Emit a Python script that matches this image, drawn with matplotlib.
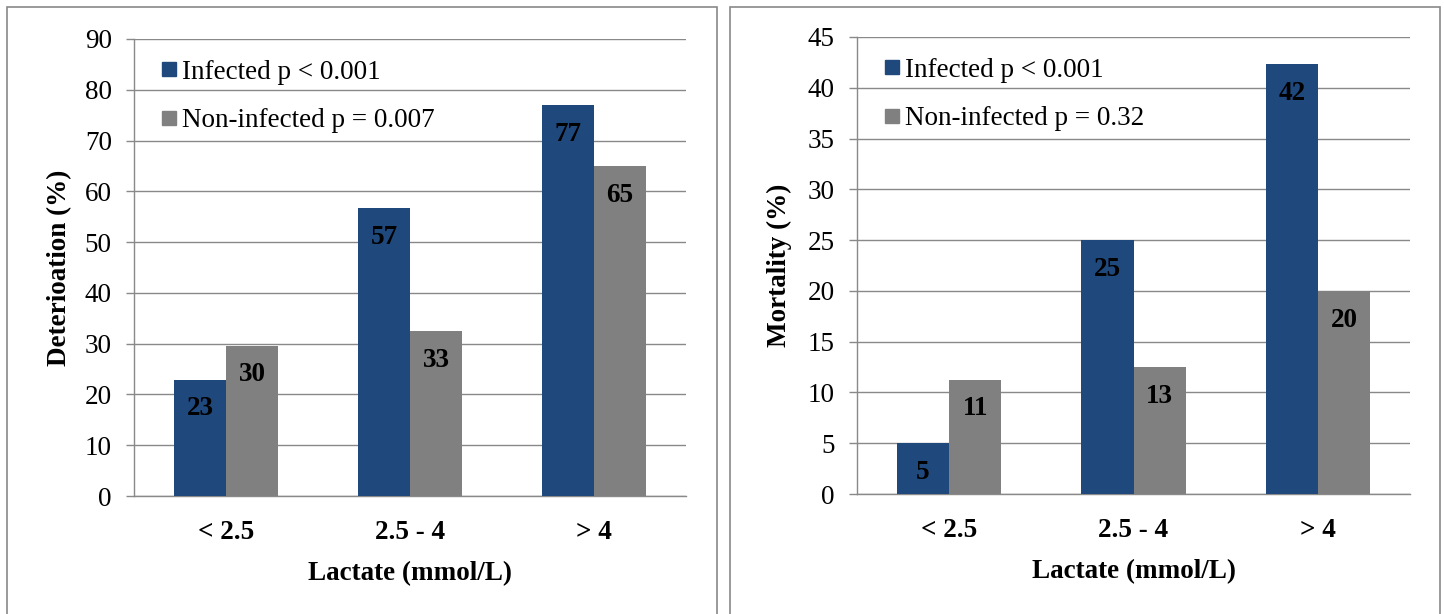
import matplotlib
matplotlib.use("Agg")
import matplotlib.pyplot as plt
from matplotlib.patches import Rectangle
from matplotlib.lines import Line2D
import numpy as np

plt.rcParams['font.family'] = ['Liberation Serif', 'DejaVu Serif']

categories = ["< 2.5", "2.5 - 4", "> 4"]

# left panel: deterioration (%)
det_infected = [22.9, 56.7, 77.0]
det_noninf = [29.6, 32.5, 65.0]
det_inf_labels = ["23", "57", "77"]
det_non_labels = ["30", "33", "65"]

# right panel: mortality (%)
mort_infected = [5.0, 25.0, 42.3]
mort_noninf = [11.25, 12.5, 20.0]
mort_inf_labels = ["5", "25", "42"]
mort_non_labels = ["11", "13", "20"]

blue = "#1F497D"
grey = "#808080"
line_grey = "#898989"
fs = 19.5

W, H = 1444, 614
fig = plt.figure(figsize=(W / 100, H / 100), dpi=100)

# panel frames
for x0, x1 in [(7, 717), (730, 1440)]:
    fig.patches.append(Rectangle((x0 / W, -0.1), (x1 - x0) / W, 0.1 + (H - 7) / H,
                                 transform=fig.transFigure, fill=False,
                                 edgecolor=line_grey, linewidth=1.2))


def panel(rect, inf, non, inf_lab, non_lab, ymax, ystep, ylabel, leg_inf, leg_non, ylab_x):
    ax = fig.add_axes(rect)
    x = np.arange(len(categories))
    w = 0.283
    b1 = ax.bar(x - w / 2, inf, w, color=blue, zorder=3)
    b2 = ax.bar(x + w / 2, non, w, color=grey, zorder=3)
    for bars, labs in [(b1, inf_lab), (b2, non_lab)]:
        for r, lab in zip(bars, labs):
            ax.annotate(lab, (r.get_x() + r.get_width() / 2, r.get_height()),
                        xytext=(0, -21), textcoords="offset points",
                        ha="center", va="center", fontsize=fs, fontweight="bold", zorder=4)
    ax.set_xlim(-0.5, len(categories) - 0.5)
    ax.set_ylim(0, ymax)
    ax.set_yticks(np.arange(0, ymax + 0.1, ystep))
    ax.set_xticks(x)
    ax.set_xticklabels(categories, fontweight="bold")
    ax.tick_params(axis="x", length=0, pad=17, labelsize=fs)
    ax.tick_params(axis="y", length=6, width=1, color=line_grey, pad=10, labelsize=fs)
    ax.grid(axis="y", color=line_grey, linewidth=1.0, zorder=0)
    for s in ["top", "right"]:
        ax.spines[s].set_visible(False)
    for s in ["left", "bottom"]:
        ax.spines[s].set_color(line_grey)
        ax.spines[s].set_linewidth(1.0)
    ax.set_xlabel("Lactate (mmol/L)", fontsize=fs, fontweight="bold", va="center")
    ax.xaxis.set_label_coords(0.5, -0.17)
    ax.set_ylabel(ylabel, fontsize=fs, fontweight="bold", va="center")
    ax.yaxis.set_label_coords(ylab_x, 0.5)
    handles = [Line2D([], [], marker="s", color=blue, linestyle="none", markersize=10),
               Line2D([], [], marker="s", color=grey, linestyle="none", markersize=10)]
    ax.legend(handles, [leg_inf, leg_non], loc="upper left", bbox_to_anchor=(0.021, 0.99),
              frameon=False, fontsize=fs, handlelength=0.5, handletextpad=0.25,
              labelspacing=0.86, borderaxespad=0.2)
    return ax


panel([134 / W, (H - 496) / H, 552 / W, 457 / H], det_infected, det_noninf,
      det_inf_labels, det_non_labels, 90, 10, "Deterioation (%)",
      "Infected p < 0.001", "Non-infected p = 0.007", -0.134)
panel([857 / W, (H - 494) / H, 553 / W, 457 / H], mort_infected, mort_noninf,
      mort_inf_labels, mort_non_labels, 45, 5, "Mortality (%)",
      "Infected p < 0.001", "Non-infected p = 0.32", -0.141)

fig.savefig("out.png", dpi=100)
